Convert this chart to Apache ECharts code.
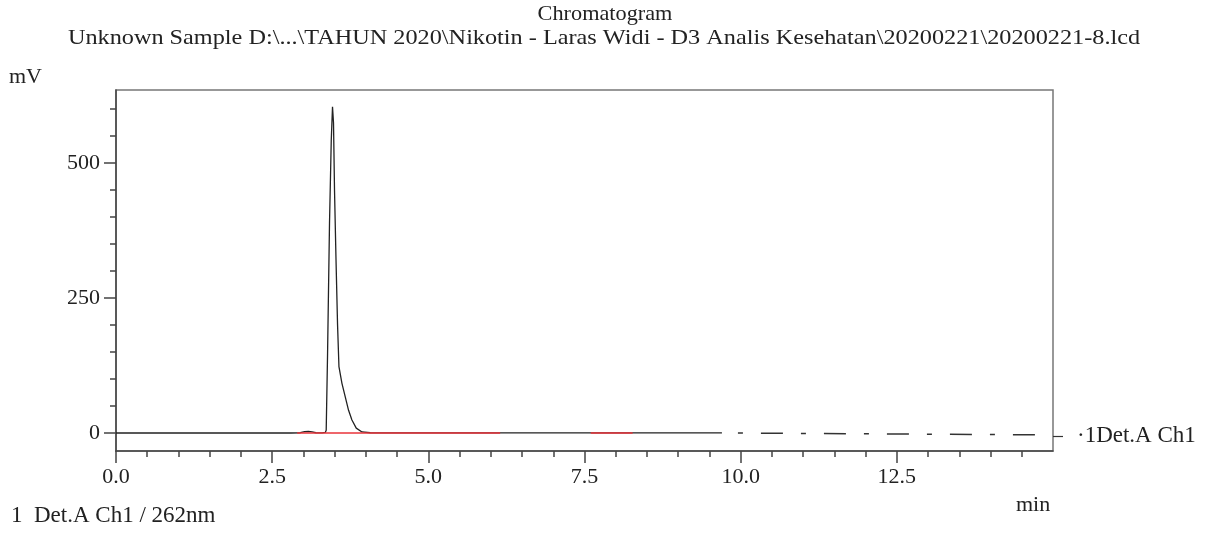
<!DOCTYPE html>
<html>
<head>
<meta charset="utf-8">
<script src="https://cdn.jsdelivr.net/npm/echarts@6/dist/echarts.min.js"></script>
<style>
 html, body { margin: 0; padding: 0; background: #fff; }
 #chart { width: 1208px; height: 544px; }
</style>
</head>
<body>
<div id="chart"></div>
<script>
// detector trace (min / mV)
const traceTime = [0, 1, 2, 2.8, 2.95, 3.02, 3.08, 3.14, 3.2, 3.3, 3.35, 3.365, 3.386, 3.418, 3.446, 3.466,
 3.482, 3.498, 3.521, 3.546, 3.569, 3.617, 3.67, 3.723, 3.777, 3.846, 3.938, 4.07, 4.5, 5, 6, 7, 8, 9, 9.7]
const traceMv = [0, 0, 0, 0, 0.5, 2.5, 3, 2, 0.5, 0.3, 1, 5, 141, 389, 542, 604,
 574, 450, 326, 203, 123, 92, 67, 42, 24, 9, 2, 0.5, 0.3, 0.2, 0.2, 0.2, 0.2, 0.2, 0.2]

// dashed continuation after the run ends
const tailTime = [9.7, 14.85]
const tailMv = [0.2, -3.5]

// integration baselines (red)
const base1Time = [2.9, 6.15]
const base1Mv = [0, 0]
const base2Time = [7.6, 8.27]
const base2Mv = [0.2, 0.2]

const xMajor = [0, 2.5, 5, 7.5, 10, 12.5]
const xMinor = [0.5, 1, 1.5, 2, 3, 3.5, 4, 4.5, 5.5, 6, 6.5, 7, 8, 8.5, 9, 9.5, 10.5, 11, 11.5, 12, 13, 13.5, 14, 14.5]
const yMajor = [0, 250, 500]
const yMinor = [50, 100, 150, 200, 300, 350, 400, 450, 550, 600]
const chLevel = -6
const chLabel = '·1Det.A Ch1'

const font = 'Liberation Serif'
const axisCol = '#444'
const txtCol = '#222'
const pairs = (xs, ys) => xs.map((x, i) => [x, ys[i]])

const yBase = { type: 'value', min: -33.3, max: 635, splitLine: { show: false } }
const xBase = { type: 'value', min: 0, max: 15, splitLine: { show: false } }

const option = {
 animation: false,
 backgroundColor: '#fff',
 grid: {
  left: 116, right: 155, top: 90, bottom: 93,
  show: true, borderColor: '#777', borderWidth: 1.5
 },
 xAxis: [
  Object.assign({}, xBase, {
   axisLine: { onZero: false, lineStyle: { color: axisCol, width: 1.5 } },
   axisTick: { customValues: xMajor, length: 12, lineStyle: { color: axisCol, width: 1.5 } },
   axisLabel: { customValues: xMajor, margin: 15, formatter: v => v.toFixed(1),
    fontFamily: font, fontSize: 22, color: txtCol }
  }),
  Object.assign({}, xBase, {
   position: 'bottom',
   axisLine: { show: false, onZero: false },
   axisTick: { customValues: xMinor, length: 6, lineStyle: { color: axisCol, width: 1.5 } },
   axisLabel: { show: false }
  })
 ],
 yAxis: [
  Object.assign({}, yBase, {
   axisLine: { show: true, onZero: false, lineStyle: { color: axisCol, width: 1.5 } },
   axisTick: { show: true, customValues: yMajor, length: 12, lineStyle: { color: axisCol, width: 1.5 } },
   axisLabel: { customValues: yMajor, margin: 16, fontFamily: font, fontSize: 22, color: txtCol }
  }),
  Object.assign({}, yBase, {
   position: 'left',
   axisLine: { show: false, onZero: false },
   axisTick: { show: true, customValues: yMinor, length: 6, lineStyle: { color: axisCol, width: 1.5 } },
   axisLabel: { show: false }
  }),
  Object.assign({}, yBase, {
   position: 'right',
   axisLine: { show: false, onZero: false },
   axisTick: { show: true, customValues: [chLevel], length: 10, lineStyle: { color: '#333', width: 1.2 } },
   axisLabel: { customValues: [chLevel], margin: 24, formatter: () => chLabel,
    fontFamily: font, fontSize: 23, color: txtCol }
  })
 ],
 graphic: [
  { type: 'text', x: 605, y: 4, scaleX: 1.06,
   style: { text: 'Chromatogram', font: '21px "Liberation Serif"', fill: txtCol, align: 'center' } },
  { type: 'text', x: 604, y: 28, scaleX: 1.155,
   style: { text: 'Unknown Sample D:\\...\\TAHUN 2020\\Nikotin - Laras Widi - D3 Analis Kesehatan\\20200221\\20200221-8.lcd',
    font: '21px "Liberation Serif"', fill: txtCol, align: 'center' } },
  { type: 'text', left: 9, top: 66, style: { text: 'mV', font: '22px "Liberation Serif"', fill: txtCol } },
  { type: 'text', left: 1016, top: 494, style: { text: 'min', font: '22px "Liberation Serif"', fill: txtCol } },
  { type: 'text', left: 11, top: 504, style: { text: '1  Det.A Ch1 / 262nm', font: '23px "Liberation Serif"', fill: txtCol } }
 ],
 series: [
  {
   name: 'trace', type: 'line', data: pairs(traceTime, traceMv),
   showSymbol: false, lineStyle: { color: '#222', width: 1.3 }, z: 2
  },
  {
   name: 'tail', type: 'line', data: pairs(tailTime, tailMv),
   showSymbol: false, lineStyle: { color: '#333', width: 1.5, type: [22, 18, 5, 18], dashOffset: 24 }, z: 2
  },
  {
   name: 'base1', type: 'line', data: pairs(base1Time, base1Mv),
   showSymbol: false, lineStyle: { color: '#e8333a', width: 1.5 }, z: 3
  },
  {
   name: 'base2', type: 'line', data: pairs(base2Time, base2Mv),
   showSymbol: false, lineStyle: { color: '#e8333a', width: 1.5 }, z: 3
  }
 ]
}

const myChart = echarts.init(document.getElementById('chart'))
myChart.setOption(option)
</script>
</body>
</html>
